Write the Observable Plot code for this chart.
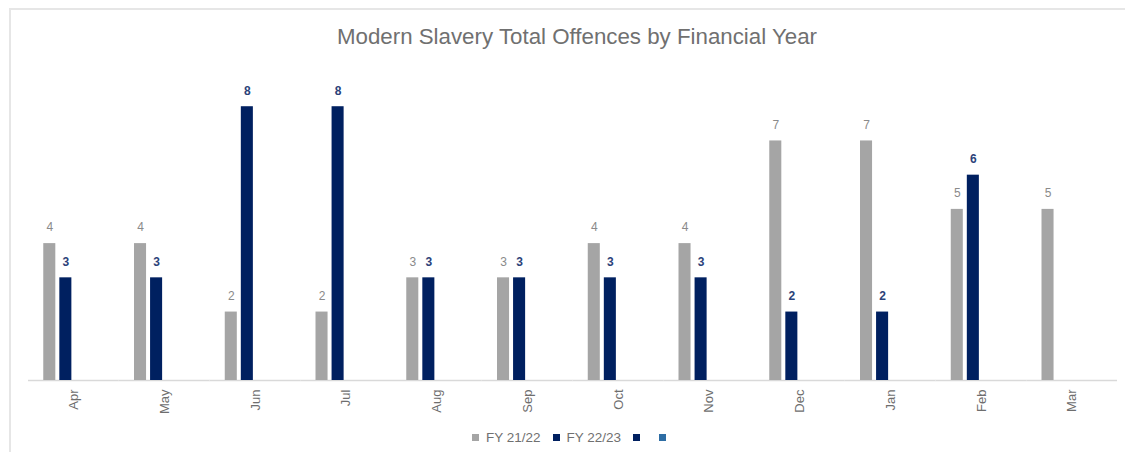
<!DOCTYPE html>
<html>
<head>
<meta charset="utf-8">
<script src="https://cdn.jsdelivr.net/npm/d3@7"></script>
<script src="https://cdn.jsdelivr.net/npm/@observablehq/plot@0.6"></script>
<style>
  html, body { margin: 0; padding: 0; background: #fff; overflow: hidden; }
  body { width: 1125px; height: 452px; position: relative; font-family: "Liberation Sans", Arial, sans-serif; }
  #frame { position: absolute; left: 9px; top: 8px; width: 1200px; height: 500px; border-left: 2px solid #E6E6E6; border-top: 2px solid #E6E6E6; }
  #title { position: absolute; left: 9px; top: 0; width: 1136px; height: 62px; line-height: 74px; text-align: center; font-size: 22.3px; color: #707070; }
  #chart { position: absolute; left: 0; top: 62px; }
  #legend { position: absolute; left: 0; top: 424px; width: 1145px; height: 26px; display: flex; justify-content: center; align-items: center; font-size: 13.5px; color: #707070; }
  .item { display: inline-flex; align-items: center; margin: 0 6px; }
  .sw { width: 7px; height: 7px; display: inline-block; margin-right: 7px; }
</style>
</head>
<body>
<div id="frame"></div>
<div id="title">Modern Slavery Total Offences by Financial Year</div>
<div id="chart"></div>
<div id="legend"></div>
<script>
const months = ["Apr","May","Jun","Jul","Aug","Sep","Oct","Nov","Dec","Jan","Feb","Mar"];
const fy2122 = [4, 4, 2, 2, 3, 3, 4, 4, 7, 7, 5, 5];
const fy2223 = [3, 3, 8, 8, 3, 3, 3, 3, 2, 2, 6, null];
const seriesNames = ["FY 21/22", "FY 22/23", "Series 3", "Series 4"];
const seriesLabels = ["FY 21/22", "FY 22/23", "", ""];
const seriesColors = ["#A5A5A5", "#002060", "#002060", "#2E6DA4"];
const labelColors = ["#8A8A8A", "#2B4279"];

const data = [];
months.forEach((m, i) => {
  if (fy2122[i] != null) data.push({month: m, series: seriesNames[0], value: fy2122[i]});
  if (fy2223[i] != null) data.push({month: m, series: seriesNames[1], value: fy2223[i]});
});

const chart = Plot.plot({
  width: 1125,
  height: 362,
  marginLeft: 28,
  marginRight: 8,
  marginTop: 10,
  marginBottom: 44,
  style: {fontFamily: "'Liberation Sans', Arial, sans-serif", background: "transparent"},
  fx: {domain: months, padding: 0, round: false, label: null},
  x: {domain: seriesNames, paddingInner: 0.25, paddingOuter: 0.95, round: false, axis: null},
  y: {domain: [0, 9], axis: null},
  color: {domain: seriesNames, range: seriesColors},
  marks: [
    Plot.ruleY([0], {stroke: "#D9D9D9", strokeWidth: 1.5}),
    Plot.barY(data, {fx: "month", x: "series", y: "value", fill: "series"}),
    Plot.text(data.filter(d => d.series === seriesNames[0]), {fx: "month", x: "series", y: "value", text: d => String(d.value), dy: -16, fill: labelColors[0], fontSize: 12}),
    Plot.text(data.filter(d => d.series === seriesNames[1]), {fx: "month", x: "series", y: "value", text: d => String(d.value), dy: -16, fill: labelColors[1], fontSize: 12, fontWeight: "bold"}),
    Plot.axisFx({anchor: "bottom", tickRotate: -90, tickSize: 0, tickPadding: 9, fontSize: 13, fill: "#6E6E6E", label: null})
  ]
});
document.getElementById("chart").appendChild(chart);

const legend = document.getElementById("legend");
seriesNames.forEach((s, i) => {
  const item = document.createElement("span");
  item.className = "item";
  const sw = document.createElement("span");
  sw.className = "sw";
  sw.style.background = seriesColors[i];
  item.appendChild(sw);
  if (seriesLabels[i]) {
    const t = document.createElement("span");
    t.textContent = seriesLabels[i];
    item.appendChild(t);
  }
  legend.appendChild(item);
});
</script>
</body>
</html>
